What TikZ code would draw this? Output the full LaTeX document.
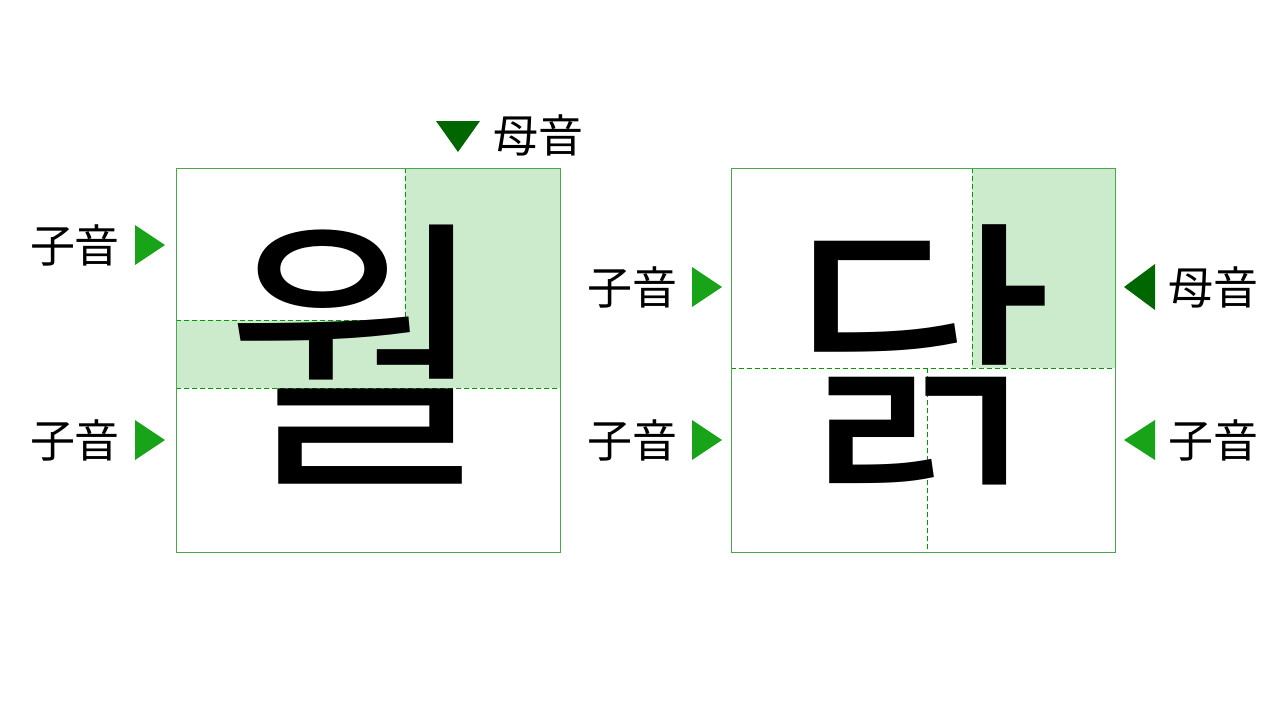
\documentclass[tikz,border=0pt]{standalone}
\usepackage{fontspec}
\setmainfont{Noto Sans CJK JP}
\newfontfamily\kr{Noto Sans CJK KR}
\begin{document}
\begin{tikzpicture}[x=1pt,y=-1pt,
  box/.style={draw=green!50!black!70, line width=0.8pt},
  shade/.style={fill=green!60!black!20, draw=none},
  dsh/.style={draw=green!60!black, dash pattern=on 5pt off 3pt, line width=0.8pt},
  lab/.style={font=\fontsize{45}{45}\selectfont, inner sep=0pt},
  big/.style={font=\kr\fontsize{290}{290}\selectfont, inner sep=0pt},
  tri/.style={fill=green!60!black!90!white, draw=none},
  dtri/.style={fill=green!40!black, draw=none}]
\useasboundingbox (0,0) rectangle (1280,720);
% left box
\fill[shade] (405,168) rectangle (560,388);
\fill[shade] (176,320) rectangle (405,388);
\draw[dsh] (405,168) -- (405,320) -- (176,320);
\draw[dsh] (176,388) -- (560,388);
\node[big] (w) at (358,355) {월};
\draw[box] (176,168) rectangle (560,552);
% right box
\fill[shade] (972,168) rectangle (1115,368);
\draw[dsh] (972,168) -- (972,368);
\draw[dsh] (731,368) -- (1115,368);
\draw[dsh] (927,368) -- (927,552);
\node[big] (d) at (922,355) {닭};
\draw[box] (731,168) rectangle (1115,552);
% labels
\node[lab] (l1) at (75,245) {子音};
\fill[tri] (135,225) -- (165,245) -- (135,265) -- cycle;
\node[lab] (l2) at (75,440) {子音};
\fill[tri] (135,420) -- (165,440) -- (135,460) -- cycle;
\node[lab] (l3) at (538,135) {母音};
\fill[dtri] (436,121) -- (480,121) -- (458,152) -- cycle;
\node[lab] (l4) at (632,287) {子音};
\fill[tri] (692,267) -- (722,287) -- (692,307) -- cycle;
\node[lab] (l5) at (632,440) {子音};
\fill[tri] (692,420) -- (722,440) -- (692,460) -- cycle;
\node[lab] (l6) at (1213,287) {母音};
\fill[dtri] (1155,264) -- (1124,287) -- (1155,310) -- cycle;
\node[lab] (l7) at (1213,440) {子音};
\fill[tri] (1155,420) -- (1124,440) -- (1155,460) -- cycle;
\end{tikzpicture}
\end{document}
